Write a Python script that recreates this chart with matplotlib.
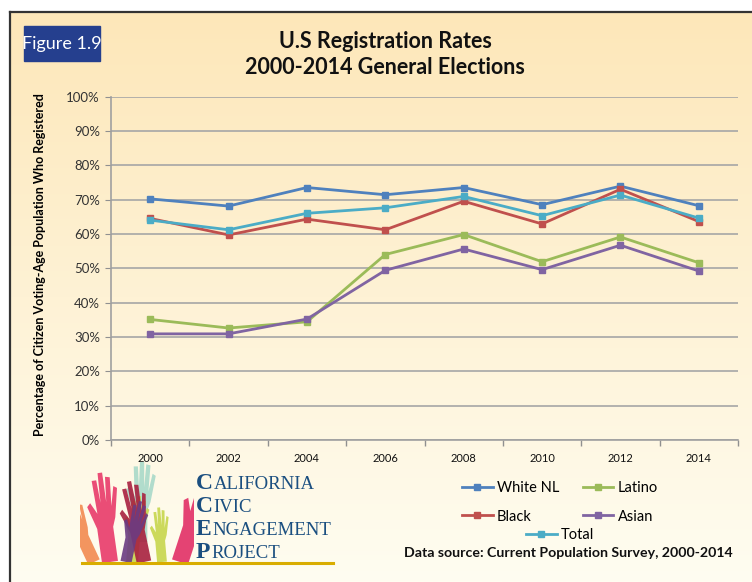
import numpy as np
import matplotlib
matplotlib.use('Agg')
import matplotlib.pyplot as plt
from matplotlib.patches import Polygon, Rectangle
from matplotlib.lines import Line2D
from matplotlib.ticker import FuncFormatter

plt.rcParams['font.family'] = ['Lato', 'DejaVu Sans']

# Data (percent registered)
years = ['2000', '2002', '2004', '2006', '2008', '2010', '2012', '2014']
white_nl = [70.2, 68.1, 73.5, 71.4, 73.5, 68.5, 73.9, 68.2]
latino = [35.1, 32.6, 34.4, 54.0, 59.8, 51.9, 59.1, 51.6]
black = [64.5, 59.7, 64.3, 61.2, 69.5, 62.9, 73.0, 63.6]
asian = [30.9, 30.9, 35.2, 49.4, 55.6, 49.6, 56.7, 49.2]
total = [64.0, 61.2, 66.0, 67.6, 70.9, 65.3, 71.3, 64.6]

W, H = 752, 582
fig = plt.figure(figsize=(W / 100, H / 100), dpi=100)


def fx(px):
    return px / W


def fy(py):
    return 1 - py / H


# background gradient + frame
bg = fig.add_axes([fx(10), 0, 1 - fx(10), fy(12)], zorder=-10)
grad = np.linspace(0, 1, 256).reshape(-1, 1)
top_c = np.array([0xfd, 0xe7, 0xb9]) / 255
bot_c = np.array([0xff, 0xfd, 0xf1]) / 255
img = top_c + (bot_c - top_c) * grad[:, :, None]
bg.imshow(img, aspect='auto', extent=[0, 1, 0, 1])
bg.axis('off')
fig.add_artist(Line2D([fx(10), fx(10)], [0, fy(12)], color='#333333', lw=1.6))
fig.add_artist(Line2D([fx(10), 1], [fy(12), fy(12)], color='#333333', lw=1.6))

# "Figure 1.9" badge
fig.add_artist(Rectangle((fx(24), fy(61)), fx(76), 35 / H, color='#253f8e'))
fig.text(fx(62), fy(43.5), 'Figure 1.9', color='white', fontsize=13,
         ha='center', va='center')

fig.text(fx(385), fy(41), 'U.S Registration Rates', fontsize=15.5, fontweight='bold',
         ha='center', va='center', color='#111111')
fig.text(fx(385), fy(68), '2000-2014 General Elections', fontsize=15.5,
         fontweight='bold', ha='center', va='center', color='#111111')

# main chart
ax = fig.add_axes([fx(111), fy(440), fx(627), 343.5 / H])
ax.patch.set_alpha(0)
x = np.arange(len(years))
series = [('White NL', white_nl, '#4f81bd'), ('Black', black, '#c0504d'),
          ('Latino', latino, '#9bbb59'), ('Asian', asian, '#8064a2'),
          ('Total', total, '#4bacc6')]
handles = {}
for name, vals, col in series:
    h, = ax.plot(x, vals, color=col, lw=2, marker='s', ms=4.5, label=name)
    handles[name] = h

ax.set_ylim(0, 100)
ax.set_xlim(-0.5, 7.5)
ax.set_yticks(np.arange(0, 101, 10))
ax.yaxis.set_major_formatter(FuncFormatter(lambda v, p: '{:.0f}%'.format(v)))
ax.set_xticks(x)
ax.set_xticklabels(years)
ax.set_xticks(np.arange(-0.5, 8, 1), minor=True)
ax.tick_params(axis='x', which='major', length=0, labelsize=8, pad=9, colors='#111111')
ax.tick_params(axis='x', which='minor', length=4, color='#909090', width=1)
ax.tick_params(axis='y', length=4, color='#909090', labelsize=9.5, pad=4, labelcolor='#333333')
ax.grid(axis='y', color='#a6a6a6', lw=1.2)
ax.set_axisbelow(True)
for s in ['top', 'right']:
    ax.spines[s].set_visible(False)
for s in ['left', 'bottom']:
    ax.spines[s].set_color('#a0a0a0')
    ax.spines[s].set_linewidth(1.2)

fig.text(fx(40), fy(265), 'Percentage of Citizen Voting-Age Population Who Registered',
         rotation=90, fontsize=9.0, fontweight='bold', ha='center', va='center')

# legend
leg1 = fig.legend([handles['White NL'], handles['Black'], handles['Latino'], handles['Asian']],
                  ['White NL', 'Black', 'Latino', 'Asian'], ncol=2, frameon=False,
                  loc='upper left', bbox_to_anchor=(fx(462), fy(481)), fontsize=10.5,
                  handlelength=2.1, handletextpad=0.3, columnspacing=1.6,
                  labelspacing=1.0, borderpad=0, borderaxespad=0)
leg2 = fig.legend([handles['Total']], ['Total'], frameon=False, loc='upper left',
                  bbox_to_anchor=(fx(526), fy(528)), fontsize=10.5, handlelength=2.1,
                  handletextpad=0.3, borderpad=0, borderaxespad=0)

fig.text(fx(404), fy(553), 'Data source: Current Population Survey, 2000-2014',
         fontsize=10.2, fontweight='bold', ha='left', va='center', color='#111111')

# logo: hands
lax = fig.add_axes([fx(80), fy(562), fx(114), 100 / H])
lax.set_xlim(0, 114)
lax.set_ylim(0, 100)
lax.axis('off')


def hand(cx, by, ang, s, col, alpha=0.9):
    # simple raised hand outline: arm, palm, fingers
    pts = [(-7, 0), (-7, 30), (-13, 50), (-10, 53), (-5, 43), (-6, 72), (-2, 72),
           (-1, 52), (0, 78), (4, 78), (4, 52), (6, 74), (10, 73), (8, 48),
           (12, 65), (15, 63), (10, 38), (7, 30), (7, 0)]
    pts = np.array(pts, dtype=float) * s
    a = np.deg2rad(ang)
    rot = np.array([[np.cos(a), -np.sin(a)], [np.sin(a), np.cos(a)]])
    pts = pts @ rot.T + [cx, by]
    lax.add_patch(Polygon(pts, closed=True, color=col, alpha=alpha, lw=0))


hand(60, 20, 0, 1.05, '#a9d9c9')
hand(14, 0, 25, 0.9, '#f28a50')
hand(30, 0, 8, 1.15, '#e83a6a')
hand(52, 0, -5, 0.85, '#c7d64c')
hand(64, 0, 12, 1.05, '#a8203f')
hand(46, 0, -12, 0.8, '#6b3b82')
hand(82, 0, 5, 0.7, '#c7d64c')
hand(100, 0, -18, 1.2, '#e22f66')

fig.add_artist(Line2D([fx(82), fx(333)], [fy(563), fy(563)], color='#d9ad00', lw=2.2))

# logo text in small caps
renderer = fig.canvas.get_renderer()
words = ['California', 'Civic', 'Engagement', 'Project']
bases = [489, 512, 535, 557.5]
for w, b in zip(words, bases):
    t = fig.text(fx(196), fy(b), w[0], fontsize=17, family='Liberation Serif',
                 color='#1b4f80', fontweight='bold', va='baseline')
    ext = t.get_window_extent(renderer)
    fig.text(ext.x1 / W + 0.001, fy(b), w[1:].upper(), fontsize=13.5,
             family='Liberation Serif', color='#1b4f80', va='baseline')

fig.savefig('out.png', dpi=100)
